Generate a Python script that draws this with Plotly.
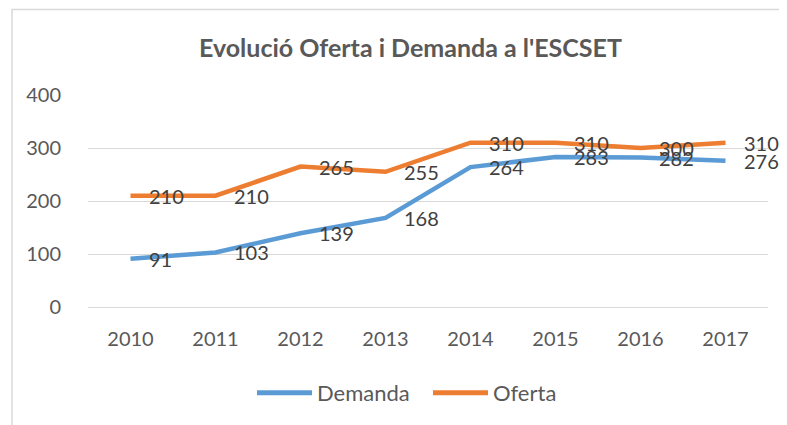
import plotly.graph_objects as go

years = ["2010", "2011", "2012", "2013", "2014", "2015", "2016", "2017"]
demanda = [91, 103, 139, 168, 264, 283, 282, 276]
oferta = [210, 210, 265, 255, 310, 310, 300, 310]
y_ticks = [0, 100, 200, 300, 400]

FONT = "Lato"
OFF = 8  # page body margin
W, H = 787 - OFF, 425 - OFF
# plot area in page pixels: x 88..768, y 95..308
L, R, T, B = 88 - OFF, 787 - 768, 95 - OFF, 425 - 308
pw = W - L - R
ph = H - T - B

def px2x(px):
    return (px - OFF - L) / pw

def py2y(py):
    return (H - B - (py - OFF)) / ph

fig = go.Figure()
fig.add_trace(go.Scatter(x=years, y=demanda, name="Demanda", mode="lines",
                         line=dict(color="#5B9BD5", width=4.5)))
fig.add_trace(go.Scatter(x=years, y=oferta, name="Oferta", mode="lines",
                         line=dict(color="#ED7D31", width=4.5)))

annotations = []
for series in (demanda, oferta):
    for i, yv in enumerate(series):
        annotations.append(dict(x=i, y=yv, xref="x", yref="y", text=str(yv),
                                showarrow=False, xanchor="left", yanchor="middle",
                                xshift=16, font=dict(family=FONT, size=20, color="#404040")))

annotations.append(dict(x=px2x(410), y=py2y(47), xref="paper", yref="paper",
                        text="<b>Evolució Oferta i Demanda a l'ESCSET</b>", showarrow=False,
                        xanchor="center", yanchor="middle",
                        font=dict(family=FONT, size=25, color="#595959")))

fig.update_layout(
    width=W, height=H,
    margin=dict(l=L, r=R, t=T, b=B),
    paper_bgcolor="white", plot_bgcolor="white",
    showlegend=True,
    legend=dict(orientation="h", x=px2x(252), xanchor="left", y=py2y(393), yanchor="middle",
                font=dict(family=FONT, size=22, color="#595959"), itemwidth=55,
                entrywidth=106, entrywidthmode="pixels",
                tracegroupgap=0, itemsizing="constant"),
    annotations=annotations,
    shapes=[dict(type="rect", xref="paper", yref="paper",
                 x0=px2x(12), x1=px2x(786), y0=py2y(440), y1=py2y(9),
                 line=dict(color="#D9D9D9", width=1.5), fillcolor="rgba(0,0,0,0)", layer="below")],
    xaxis=dict(type="category", range=[-0.5, 7.5], showgrid=False, zeroline=False,
               showline=False, ticks="outside", ticklen=14, tickcolor="rgba(0,0,0,0)",
               tickfont=dict(family=FONT, size=20, color="#595959")),
    yaxis=dict(range=[0, 400], tickvals=y_ticks, showgrid=True, gridcolor="#D9D9D9", gridwidth=1,
               zeroline=True, zerolinecolor="#D9D9D9", zerolinewidth=1, showline=False,
               ticks="outside", ticklen=22, tickcolor="rgba(0,0,0,0)",
               tickfont=dict(family=FONT, size=20, color="#595959")),
)

fig.write_html("out.html")
